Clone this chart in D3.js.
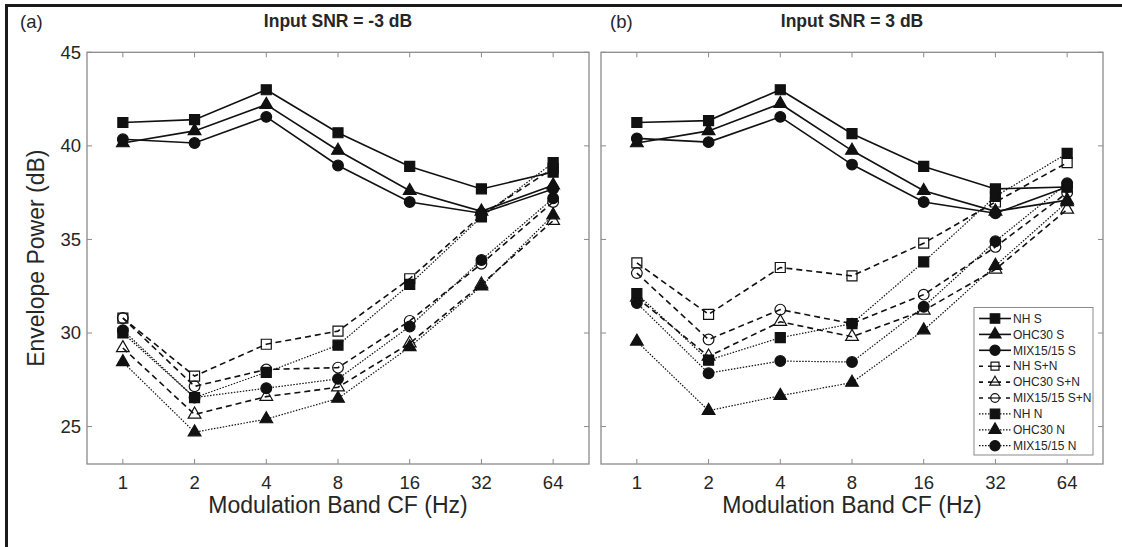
<!DOCTYPE html>
<html>
<head>
<meta charset="utf-8">
<script src="https://cdn.jsdelivr.net/npm/d3@7"></script>
<style>
  body { margin: 0; background: #fff; }
  text { font-family: "Liberation Sans", Arial, sans-serif; fill: #262626; }
</style>
</head>
<body>
<div id="chart"></div>
<script>
const bands = [1, 2, 4, 8, 16, 32, 64];
const yTicks = [25, 30, 35, 40, 45];

// panel (a), input SNR = -3 dB
const nhS_a   = [41.25, 41.4, 43.0, 40.7, 38.9, 37.7, 38.6];
const ohcS_a  = [40.15, 40.8, 42.2, 39.75, 37.6, 36.5, 37.9];
const mixS_a  = [40.35, 40.15, 41.55, 38.95, 37.0, 36.4, 37.7];
const nhSN_a  = [30.8, 27.7, 29.4, 30.1, 32.9, 36.3, 38.8];
const ohcSN_a = [29.2, 25.65, 26.6, 27.1, 29.45, 32.6, 36.0];
const mixSN_a = [30.8, 27.15, 28.05, 28.15, 30.65, 33.7, 37.0];
const nhN_a   = [30.0, 26.55, 27.9, 29.35, 32.6, 36.2, 39.1];
const ohcN_a  = [28.45, 24.7, 25.4, 26.5, 29.25, 32.5, 36.3];
const mixN_a  = [30.15, 26.55, 27.05, 27.55, 30.35, 33.9, 37.2];

// panel (b), input SNR = 3 dB
const nhS_b   = [41.25, 41.35, 43.0, 40.65, 38.9, 37.7, 37.8];
const ohcS_b  = [40.15, 40.8, 42.25, 39.75, 37.6, 36.5, 37.1];
const mixS_b  = [40.4, 40.2, 41.55, 39.0, 37.0, 36.4, 37.8];
const nhSN_b  = [33.75, 31.0, 33.5, 33.05, 34.8, 37.0, 39.1];
const ohcSN_b = [31.9, 28.75, 30.6, 29.8, 31.2, 33.4, 36.6];
const mixSN_b = [33.2, 29.65, 31.25, 30.5, 32.05, 34.6, 37.5];
const nhN_b   = [32.1, 28.55, 29.75, 30.5, 33.8, 37.3, 39.6];
const ohcN_b  = [29.55, 25.85, 26.65, 27.35, 30.15, 33.6, 37.0];
const mixN_b  = [31.6, 27.85, 28.5, 28.45, 31.4, 34.9, 38.0];

const seriesNames = ["NH S", "OHC30 S", "MIX15/15 S", "NH S+N", "OHC30 S+N", "MIX15/15 S+N", "NH N", "OHC30 N", "MIX15/15 N"];
const shapes = ["square", "triangle", "circle", "square", "triangle", "circle", "square", "triangle", "circle"];
const kinds = ["S", "S", "S", "SN", "SN", "SN", "N", "N", "N"];

const panels = [
  {label: "(a)", title: "Input SNR = -3 dB", left: 87, right: 589,
   data: [nhS_a, ohcS_a, mixS_a, nhSN_a, ohcSN_a, mixSN_a, nhN_a, ohcN_a, mixN_a]},
  {label: "(b)", title: "Input SNR = 3 dB", left: 601, right: 1103,
   data: [nhS_b, ohcS_b, mixS_b, nhSN_b, ohcSN_b, mixSN_b, nhN_b, ohcN_b, mixN_b]}
];

const width = 1122, height = 547,
  plotTop = 52.3, plotBottom = 464;

const svg = d3.select("#chart").append("svg")
  .attr("width", width).attr("height", height);

// figure frame
svg.append("line").attr("x1", 6.5).attr("x2", 6.5).attr("y1", 4).attr("y2", height)
  .attr("stroke", "#1a1a1a").attr("stroke-width", 3);
svg.append("line").attr("x1", 5).attr("x2", width).attr("y1", 5.5).attr("y2", 5.5)
  .attr("stroke", "#1a1a1a").attr("stroke-width", 3);

let y = d3.scaleLinear().domain([23, 45]).range([plotBottom, plotTop]);

const lineStyle = {
  S:  {dash: null, width: 1.6},
  SN: {dash: "6,4", width: 1.6},
  N:  {dash: "1.5,1.5", width: 1.2}
};

function symbolPath(shape, s) {
  if (shape == "square") return d3.symbol(d3.symbolSquare, 100 * s * s)();
  if (shape == "triangle") return d3.symbol(d3.symbolTriangle, 70 * s * s)();
  return d3.symbol(d3.symbolCircle, 90 * s * s)();
}

panels.forEach((p, pi) => {
  let x = d3.scaleLog().base(2)
    .domain([Math.pow(2, -0.5), Math.pow(2, 6.5)])
    .range([p.left, p.right]);

  const g = svg.append("g");

  // box with inward ticks
  g.append("rect")
    .attr("x", p.left).attr("y", plotTop)
    .attr("width", p.right - p.left).attr("height", plotBottom - plotTop)
    .attr("fill", "none").attr("stroke", "#8a8a8a").attr("stroke-width", 1.3);

  bands.forEach(b => {
    g.append("line").attr("x1", x(b)).attr("x2", x(b)).attr("y1", plotBottom).attr("y2", plotBottom - 5)
      .attr("stroke", "#8a8a8a");
    g.append("line").attr("x1", x(b)).attr("x2", x(b)).attr("y1", plotTop).attr("y2", plotTop + 5)
      .attr("stroke", "#8a8a8a");
    g.append("text").attr("x", x(b)).attr("y", plotBottom + 25)
      .attr("text-anchor", "middle").style("font-size", "18.5px").text(b);
  });
  yTicks.forEach(t => {
    g.append("line").attr("x1", p.left).attr("x2", p.left + 5).attr("y1", y(t)).attr("y2", y(t))
      .attr("stroke", "#8a8a8a");
    g.append("line").attr("x1", p.right).attr("x2", p.right - 5).attr("y1", y(t)).attr("y2", y(t))
      .attr("stroke", "#8a8a8a");
    if (pi == 0) {
      g.append("text").attr("x", p.left - 6).attr("y", y(t)).attr("dy", "0.35em")
        .attr("text-anchor", "end").style("font-size", "18.5px").text(t);
    }
  });

  // titles
  g.append("text").attr("x", (p.left + p.right) / 2).attr("y", 27)
    .attr("text-anchor", "middle").style("font-size", "17.5px").style("font-weight", "bold")
    .text(p.title);
  g.append("text").attr("x", p.left - 67 + (pi == 1 ? 76 : 0)).attr("y", 28)
    .style("font-size", "18.5px").text(p.label);
  g.append("text").attr("x", (p.left + p.right) / 2).attr("y", 513)
    .attr("text-anchor", "middle").style("font-size", "23px").text("Modulation Band CF (Hz)");

  // series
  p.data.forEach((vals, si) => {
    const st = lineStyle[kinds[si]];
    const pts = vals.map((v, i) => ({b: bands[i], v: v}));
    let line = d3.line().x(d => x(d.b)).y(d => y(d.v));
    g.append("path").datum(pts)
      .attr("d", line)
      .attr("fill", "none").attr("stroke", "#111")
      .attr("stroke-width", st.width)
      .attr("stroke-dasharray", st.dash);
    g.selectAll(null).data(pts).join("path")
      .attr("transform", d => `translate(${x(d.b)},${y(d.v)})`)
      .attr("d", symbolPath(shapes[si], 1))
      .attr("fill", kinds[si] == "SN" ? "none" : "#111")
      .attr("stroke", "#111").attr("stroke-width", 1.2);
  });

  // legend in panel (b)
  if (pi == 1) {
    const lx = 974, ly = 307.5, lw = 119, lh = 147.5;
    const lg = svg.append("g");
    lg.append("rect").attr("x", lx).attr("y", ly).attr("width", lw).attr("height", lh)
      .attr("fill", "#fff").attr("stroke", "#8a8a8a").attr("stroke-width", 1);
    seriesNames.forEach((name, i) => {
      const cy = ly + 11 + i * 15.9;
      const st = lineStyle[kinds[i]];
      lg.append("line").attr("x1", lx + 5).attr("x2", lx + 37).attr("y1", cy).attr("y2", cy)
        .attr("stroke", "#111").attr("stroke-width", st.width)
        .attr("stroke-dasharray", kinds[i] == "SN" ? "4,5" : st.dash);
      lg.append("path").attr("transform", `translate(${lx + 21},${cy})`)
        .attr("d", symbolPath(shapes[i], kinds[i] == "SN" ? 0.8 : 0.95))
        .attr("fill", kinds[i] == "SN" ? "#fff" : "#111")
        .attr("stroke", "#111").attr("stroke-width", 1.2);
      if (kinds[i] == "SN") {
        lg.append("line").attr("x1", lx + 17).attr("x2", lx + 25).attr("y1", cy).attr("y2", cy)
          .attr("stroke", "#111").attr("stroke-width", 1.2);
      }
      lg.append("text").attr("x", lx + 39).attr("y", cy).attr("dy", "0.35em")
        .style("font-size", "12px").text(name);
    });
  }
});

// shared y label
svg.append("text")
  .attr("transform", `translate(44,${(plotTop + plotBottom) / 2}) rotate(-90)`)
  .attr("text-anchor", "middle").style("font-size", "23px")
  .text("Envelope Power (dB)");
</script>
</body>
</html>
